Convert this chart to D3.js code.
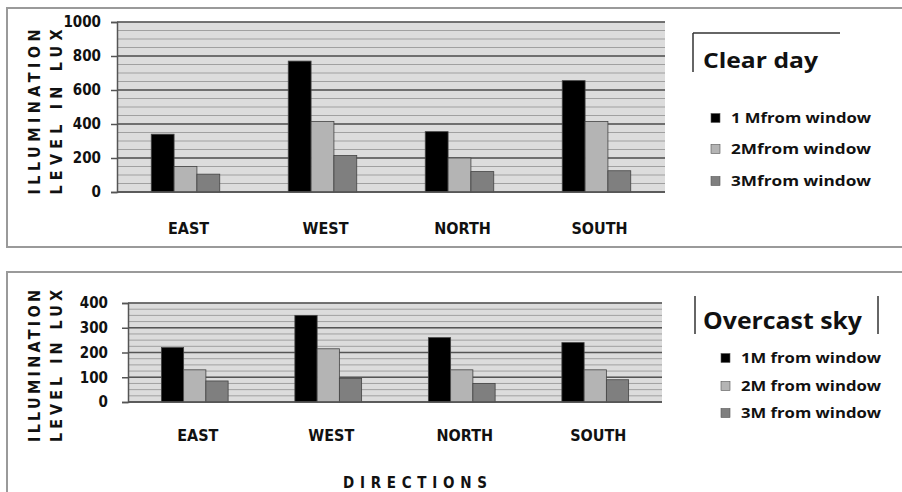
<!DOCTYPE html>
<html><head><meta charset="utf-8">
<script src="https://cdn.jsdelivr.net/npm/d3@7"></script>
<style>
html,body{margin:0;padding:0;background:#fff;}
svg{display:block;}
</style></head>
<body>
<script>
const categories = ["EAST","WEST","NORTH","SOUTH"];
const clearSeries = ["1 Mfrom window","2Mfrom window","3Mfrom window"];
const overcastSeries = ["1M from window","2M from window","3M from window"];
const clear1M = [340,770,355,655];
const clear2M = [150,415,200,415];
const clear3M = [105,215,120,125];
const overcast1M = [220,350,260,240];
const overcast2M = [130,215,130,130];
const overcast3M = [85,95,75,90];
const clearTicks = [0,200,400,600,800,1000];
const overcastTicks = [0,100,200,300,400];
const colors = ["#000000","#b4b4b4","#7f7f7f"];

const W = 902, H = 492;
const svg = d3.select("body").append("svg").attr("width",W).attr("height",H);
const labelFont = "'DejaVu Sans Condensed','DejaVu Sans',sans-serif";
const legendFont = "'Open Sans','Noto Sans',sans-serif";

function panel(cfg){
  const g = svg.append("g");
  g.append("rect").attr("x",cfg.box[0]).attr("y",cfg.box[1]).attr("width",cfg.box[2]).attr("height",cfg.box[3])
    .attr("fill","#fff").attr("stroke","#9a9a9a").attr("stroke-width",2);
  const x = d3.scaleBand().domain(categories).range([cfg.x0,cfg.x1]).paddingInner(0.5).paddingOuter(0.25);
  const xs = d3.scaleBand().domain(cfg.series).range([0,x.bandwidth()]);
  const y = d3.scaleLinear().domain([0,cfg.max]).range([cfg.y0,cfg.y1]);
  g.append("rect").attr("x",cfg.x0).attr("y",cfg.y1).attr("width",cfg.x1-cfg.x0).attr("height",cfg.y0-cfg.y1).attr("fill","#dcdcdc");
  g.append("g").selectAll("line").data(d3.range(0,cfg.max+0.1,cfg.minor)).join("line")
    .attr("x1",cfg.x0).attr("x2",cfg.x1).attr("y1",d=>y(d)).attr("y2",d=>y(d))
    .attr("stroke","#a0a0a0").attr("stroke-width",1);
  g.append("g").selectAll("line").data(cfg.ticks).join("line")
    .attr("x1",cfg.x0).attr("x2",cfg.x1).attr("y1",d=>y(d)).attr("y2",d=>y(d))
    .attr("stroke","#555").attr("stroke-width",1.5);
  const ya = g.append("g").attr("transform",`translate(${cfg.x0},0)`)
    .call(d3.axisLeft(y).tickValues(cfg.ticks).tickSize(6).tickPadding(cfg.tickPad).tickFormat(d3.format("d")));
  ya.select(".domain").attr("stroke","#555").attr("stroke-width",1.5);
  ya.selectAll(".tick line").attr("stroke","#555").attr("stroke-width",1.5);
  ya.selectAll("text").attr("font-family",labelFont).attr("font-weight","bold").attr("font-size",15).attr("fill","#111");
  const data = [];
  categories.forEach((c,i)=>cfg.series.forEach((s,j)=>data.push({c,s,v:cfg.values[j][i],j})));
  g.append("g").selectAll("rect").data(data).join("rect")
    .attr("x",d=>x(d.c)+xs(d.s)).attr("width",xs.bandwidth())
    .attr("y",d=>y(d.v)).attr("height",d=>cfg.y0-y(d.v))
    .attr("fill",d=>colors[d.j]).attr("stroke","#444").attr("stroke-width",0.8);
  g.append("line").attr("x1",cfg.x0).attr("x2",cfg.x1).attr("y1",cfg.y0).attr("y2",cfg.y0).attr("stroke","#555").attr("stroke-width",1.5);
  g.append("g").selectAll("text").data(categories).join("text")
    .attr("x",d=>x(d)+x.bandwidth()/2+3).attr("y",cfg.xLabelY).attr("text-anchor","middle")
    .attr("font-family",labelFont).attr("font-weight","bold").attr("font-size",16).attr("fill","#111").text(d=>d);
  const tl = [["ILLUMINATION",40],["LEVEL IN LUX",62]];
  tl.forEach(([t,xx])=>{
    g.append("text").attr("transform",`translate(${xx},${cfg.titleY}) rotate(-90)`)
      .attr("text-anchor","middle").attr("font-family",labelFont).attr("font-weight","bold").attr("font-size",16)
      .attr("textLength",cfg.titleLen).attr("lengthAdjust","spacing").attr("fill","#111").text(t);
  });
  g.append("text").attr("x",cfg.legTitle[0]).attr("y",cfg.legTitle[1]).attr("font-family",legendFont)
    .attr("font-weight","bold").attr("font-size",cfg.legTitleSize).attr("fill","#111")
    .attr("textLength",cfg.legTitleLen).attr("lengthAdjust","spacingAndGlyphs").text(cfg.title);
  cfg.deco.forEach(l=>g.append("line").attr("x1",l[0]).attr("y1",l[1]).attr("x2",l[2]).attr("y2",l[3]).attr("stroke","#333").attr("stroke-width",1.5));
  cfg.series.forEach((s,j)=>{
    const cy = cfg.legY[j];
    g.append("rect").attr("x",cfg.legX).attr("y",cy-4.5).attr("width",9).attr("height",9).attr("fill",colors[j]).attr("stroke","#555").attr("stroke-width",0.6);
    g.append("text").attr("x",cfg.legX+20).attr("y",cy+5).attr("font-family",legendFont).attr("font-weight","bold")
      .attr("font-size",14).attr("fill","#111").attr("textLength",140).attr("lengthAdjust","spacingAndGlyphs").text(s);
  });
}

panel({box:[7,8,905,239], x0:117,x1:665,y0:192,y1:22,max:1000,minor:50,ticks:clearTicks,tickPad:10,
  series:clearSeries, values:[clear1M,clear2M,clear3M], xLabelY:234, titleY:112, titleLen:165,
  title:"Clear day", legTitle:[703,68], legTitleSize:22, legTitleLen:115,
  deco:[[693,33,840,33],[693,33,693,72]], legX:711, legY:[118,149,181]});

panel({box:[7,272,905,240], x0:128,x1:662,y0:402,y1:303,max:400,minor:25,ticks:overcastTicks,tickPad:14,
  series:overcastSeries, values:[overcast1M,overcast2M,overcast3M], xLabelY:441, titleY:366, titleLen:152,
  title:"Overcast sky", legTitle:[703,329], legTitleSize:24, legTitleLen:159,
  deco:[[695,296,695,334],[878,296,878,334]], legX:721, legY:[358,386,413]});

svg.append("text").attr("x",415).attr("y",488).attr("text-anchor","middle").attr("font-family",labelFont)
  .attr("font-weight","bold").attr("font-size",15).attr("fill","#111").attr("textLength",144).attr("lengthAdjust","spacing").text("DIRECTIONS");
</script>
</body></html>
